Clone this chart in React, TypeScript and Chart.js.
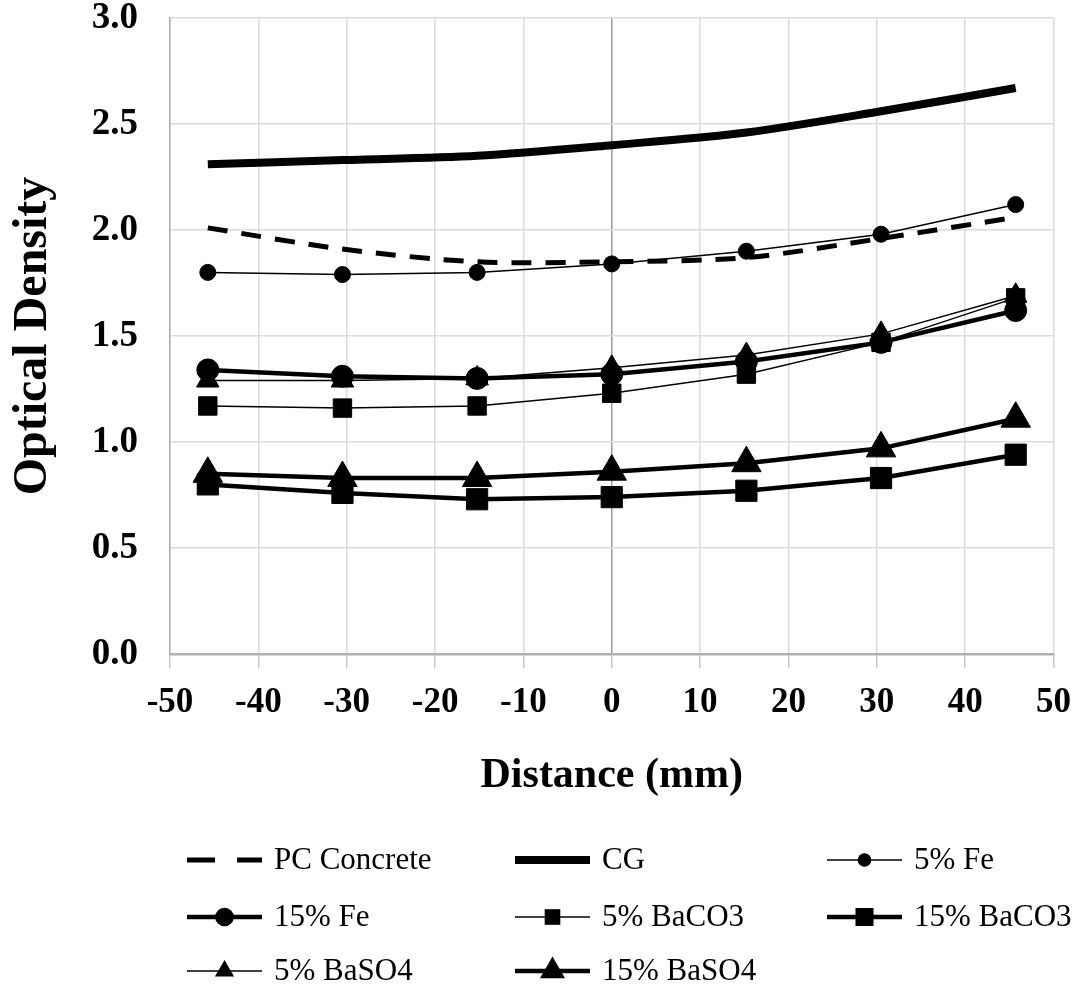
import React, { useEffect, useRef } from "react";
import { Chart, registerables } from "chart.js";

Chart.register(...registerables);

const distances = [-45.72, -30.48, -15.24, 0, 15.24, 30.48, 45.72];
const pcConcrete = [2.01, 1.91, 1.85, 1.85, 1.87, 1.96, 2.06];
const cg = [2.31, 2.33, 2.35, 2.4, 2.46, 2.56, 2.67];
const fe5 = [1.8, 1.79, 1.8, 1.84, 1.9, 1.98, 2.12];
const fe15 = [1.34, 1.31, 1.3, 1.32, 1.38, 1.47, 1.62];
const baco3_5 = [1.17, 1.16, 1.17, 1.23, 1.32, 1.47, 1.68];
const baco3_15 = [0.8, 0.76, 0.73, 0.74, 0.77, 0.83, 0.94];
const baso4_5 = [1.29, 1.29, 1.3, 1.35, 1.41, 1.51, 1.69];
const baso4_15 = [0.85, 0.83, 0.83, 0.86, 0.9, 0.97, 1.11];

const seriesLabels = [
  "PC Concrete",
  "CG",
  "5% Fe",
  "15% Fe",
  "5% BaCO3",
  "15% BaCO3",
  "5% BaSO4",
  "15% BaSO4",
];
const yTickLabels = ["0.0", "0.5", "1.0", "1.5", "2.0", "2.5", "3.0"];

const FONT = "'Liberation Serif', 'Times New Roman', serif";

type Style = {
  width: number;
  dash: number[];
  point: "none" | "circle" | "rect" | "triangle";
  radius: number;
};

const styles: Style[] = [
  { width: 5, dash: [20, 14], point: "none", radius: 0 },
  { width: 8, dash: [], point: "none", radius: 0 },
  { width: 1.5, dash: [], point: "circle", radius: 8 },
  { width: 4.5, dash: [], point: "circle", radius: 11 },
  { width: 1.5, dash: [], point: "rect", radius: 13 },
  { width: 4.5, dash: [], point: "rect", radius: 15 },
  { width: 1.5, dash: [], point: "triangle", radius: 13 },
  { width: 4.5, dash: [], point: "triangle", radius: 17 },
];

const seriesValues = [pcConcrete, cg, fe5, fe15, baco3_5, baco3_15, baso4_5, baso4_15];

function drawMarker(ctx: CanvasRenderingContext2D, kind: string, x: number, y: number, r: number) {
  ctx.beginPath();
  if (kind === "circle") {
    ctx.arc(x, y, r, 0, Math.PI * 2);
  } else if (kind === "rect") {
    const s = Math.SQRT1_2 * r;
    ctx.rect(x - s, y - s, 2 * s, 2 * s);
  } else if (kind === "triangle") {
    ctx.moveTo(x, y - r);
    ctx.lineTo(x + r * Math.sin((2 * Math.PI) / 3), y - r * Math.cos((2 * Math.PI) / 3));
    ctx.lineTo(x - r * Math.sin((2 * Math.PI) / 3), y - r * Math.cos((2 * Math.PI) / 3));
    ctx.closePath();
  } else {
    return;
  }
  ctx.fillStyle = "#000";
  ctx.fill();
}

const legendCols = [187, 515, 827];
const legendRows = [860, 917, 971];

const legendPlugin = {
  id: "gridLegend",
  afterDraw(chart: any) {
    const ctx: CanvasRenderingContext2D = chart.ctx;
    ctx.save();
    seriesLabels.forEach((label, i) => {
      const st = styles[i];
      const col = i % 3;
      const row = Math.floor(i / 3);
      const x0 = legendCols[col];
      const y = legendRows[row];
      const len = 75;
      ctx.strokeStyle = "#000";
      ctx.lineWidth = st.width;
      ctx.lineCap = "butt";
      ctx.setLineDash(i === 0 ? [28, 22] : []);
      ctx.beginPath();
      ctx.moveTo(x0, y);
      ctx.lineTo(x0 + len, y);
      ctx.stroke();
      ctx.setLineDash([]);
      if (st.point !== "none") {
        drawMarker(ctx, st.point, x0 + len / 2, y, st.radius * 0.85);
      }
      ctx.fillStyle = "#000";
      ctx.font = `31px ${FONT}`;
      ctx.textAlign = "left";
      ctx.textBaseline = "middle";
      ctx.fillText(label, x0 + len + 12, y + 1);
    });
    ctx.restore();
  },
};

export default function App() {
  const canvasRef = useRef<HTMLCanvasElement | null>(null);

  useEffect(() => {
    document.body.style.margin = "0";
    const canvas = canvasRef.current;
    if (!canvas) return;
    const datasets = seriesLabels.map((label, i) => {
      const st = styles[i];
      return {
        label,
        data: distances.map((d, j) => ({ x: d, y: seriesValues[i][j] })),
        borderColor: "#000",
        backgroundColor: "#000",
        borderWidth: st.width,
        borderDash: st.dash,
        pointStyle: st.point === "none" ? "circle" : st.point,
        pointRadius: st.point === "none" ? 0 : st.radius,
        pointBorderWidth: 1,
        pointBackgroundColor: "#000",
        pointBorderColor: "#000",
        tension: i < 2 ? 0.3 : 0,
        fill: false,
        showLine: true,
      };
    });

    const chart = new Chart(canvas, {
      type: "line",
      data: { datasets: datasets as any },
      options: {
        animation: false,
        responsive: false,
        devicePixelRatio: 1,
        layout: { padding: { left: 0, top: 15, right: 30, bottom: 191 } },
        plugins: {
          legend: { display: false },
          tooltip: { enabled: false },
        },
        scales: {
          x: {
            type: "linear",
            min: -50,
            max: 50,
            ticks: {
              stepSize: 10,
              color: "#000",
              padding: 14,
              font: { family: FONT, size: 35, weight: "bold" },
            },
            grid: {
              color: (c: any) => (c.tick && c.tick.value === 0 ? "#9a9a9a" : "#dcdcdc"),
              lineWidth: 1.5,
              tickLength: 14,
              tickColor: "#c8c8c8",
            },
            border: { color: "#b0b0b0", width: 2.5 },
            title: {
              display: true,
              text: "Distance (mm)",
              color: "#000",
              font: { family: FONT, size: 42, weight: "bold" },
              padding: { top: 0, bottom: 3 },
            },
            afterFit: (scale: any) => {
              scale.height = 150;
            },
          },
          y: {
            type: "linear",
            min: 0,
            max: 3,
            ticks: {
              stepSize: 0.5,
              color: "#000",
              padding: 32,
              font: { family: FONT, size: 37, weight: "bold" },
              callback: (v: any) => {
                const idx = Math.round(Number(v) / 0.5);
                return yTickLabels[idx] ?? Number(v).toFixed(1);
              },
            },
            grid: {
              color: "#dcdcdc",
              lineWidth: 1.5,
              drawTicks: false,
            },
            border: { color: "#b0b0b0", width: 1.5 },
            title: {
              display: true,
              text: "Optical Density",
              color: "#000",
              font: { family: FONT, size: 48, weight: "bold" },
              padding: { top: 5, bottom: 0 },
            },
            afterFit: (scale: any) => {
              scale.width = 170;
              scale.paddingTop = 0;
              scale.paddingBottom = 0;
            },
          },
        },
      },
      plugins: [legendPlugin],
    });
    return () => chart.destroy();
  }, []);

  return (
    <div style={{ width: 1085, height: 995, background: "#fff" }}>
      <canvas ref={canvasRef} width={1085} height={995} style={{ display: "block" }} />
    </div>
  );
}
